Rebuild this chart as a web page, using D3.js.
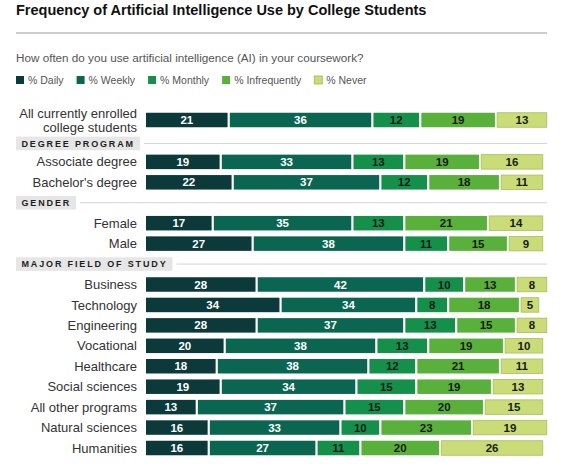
<!DOCTYPE html>
<html>
<head>
<meta charset="utf-8">
<script src="https://cdn.jsdelivr.net/npm/d3@7"></script>
<style>
  body { margin: 0; background: #fff; }
  svg { font-family: "Liberation Sans", Arial, sans-serif; }
</style>
</head>
<body>
<div id="chart"></div>
<script>
// ---- data ----
const title = 'Frequency of Artificial Intelligence Use by College Students';
const question = 'How often do you use artificial intelligence (AI) in your coursework?';
const series = ['% Daily', '% Weekly', '% Monthly', '% Infrequently', '% Never'];
const categories = [
  'All currently enrolled\ncollege students',
  'Associate degree', "Bachelor's degree",
  'Female', 'Male',
  'Business', 'Technology', 'Engineering', 'Vocational', 'Healthcare',
  'Social sciences', 'All other programs', 'Natural sciences', 'Humanities'
];
const sections = [
  '', 'DEGREE PROGRAM', 'DEGREE PROGRAM', 'GENDER', 'GENDER',
  'MAJOR FIELD OF STUDY', 'MAJOR FIELD OF STUDY', 'MAJOR FIELD OF STUDY',
  'MAJOR FIELD OF STUDY', 'MAJOR FIELD OF STUDY', 'MAJOR FIELD OF STUDY',
  'MAJOR FIELD OF STUDY', 'MAJOR FIELD OF STUDY', 'MAJOR FIELD OF STUDY'
];
const daily        = [21, 19, 22, 17, 27, 28, 34, 28, 20, 18, 19, 13, 16, 16];
const weekly       = [36, 33, 37, 35, 38, 42, 34, 37, 38, 38, 34, 37, 33, 27];
const monthly      = [12, 13, 12, 13, 11, 10,  8, 13, 13, 12, 15, 15, 10, 11];
const infrequently = [19, 19, 18, 21, 15, 13, 18, 15, 19, 21, 19, 20, 23, 20];
const never        = [13, 16, 11, 14,  9,  8,  5,  8, 10, 11, 13, 15, 19, 26];

const colors = ['#0c3a3b', '#0b6651', '#15904a', '#59b03b', '#c9dc78'];
const labelColors = ['#fff', '#fff', '#1a1a1a', '#1a1a1a', '#1a1a1a'];

// ---- layout ----
const width = 572, height = 464;
const svg = d3.select('#chart').append('svg')
  .attr('width', width)
  .attr('height', height);

const values = [daily, weekly, monthly, infrequently, never];
const rows = categories.map((c, i) => ({
  label: c,
  key: 'row' + i,
  section: sections[i],
  vals: values.map(s => s[i])
}));

// rows plus a header line whenever the section changes
const rowKeys = [];
const headerRows = [];
let lastSection = '';
rows.forEach(r => {
  if (r.section && r.section !== lastSection) {
    rowKeys.push('hdr' + headerRows.length);
    headerRows.push({ key: 'hdr' + headerRows.length, label: r.section });
  }
  lastSection = r.section;
  rowKeys.push(r.key);
});

const yScale = d3.scalePoint().domain(rowKeys).range([121, 448]);
// the two-line top row needs a little more room below it
const nudge = { row0: -1, hdr0: 2 };
const y = k => yScale(k) + (nudge[k] || 0);
const x = d3.scaleLinear().domain([0, 100]).range([146, 545]);
const barH = 14.5;
const gap = 2.2;

// Title + rule
svg.append('text')
  .attr('x', 16).attr('y', 15)
  .attr('font-size', 14.5)
  .attr('font-weight', 'bold')
  .attr('fill', '#111')
  .text(title);

svg.append('line')
  .attr('x1', 16).attr('x2', 547)
  .attr('y1', 33).attr('y2', 33)
  .attr('stroke', '#bdbdbd')
  .attr('stroke-width', 1.5);

svg.append('text')
  .attr('x', 16).attr('y', 62)
  .attr('font-size', 11.7)
  .attr('fill', '#555')
  .text(question);

// Legend
const legend = svg.append('g').attr('transform', 'translate(16,80)');
let lx = 0;
series.forEach((s, i) => {
  const g = legend.append('g').attr('transform', `translate(${lx},0)`);
  g.append('rect')
    .attr('x', 0).attr('y', -4)
    .attr('width', 8).attr('height', 8)
    .attr('fill', colors[i])
    .attr('stroke', i === 4 ? '#a3b655' : 'none')
    .attr('stroke-width', 0.8);
  const t = g.append('text')
    .attr('x', 12).attr('y', 4)
    .attr('font-size', 10.5)
    .attr('fill', '#555')
    .text(s);
  lx += 12 + t.node().getComputedTextLength() + 13;
});

// Section headers
headerRows.forEach(h => {
  const cy = y(h.key);
  const g = svg.append('g');
  const box = g.append('rect')
    .attr('x', 16).attr('y', cy - 6.8)
    .attr('height', 13.6)
    .attr('fill', '#e6e6e6');
  const t = g.append('text')
    .attr('x', 21.5).attr('y', cy + 3.3)
    .attr('font-size', 9)
    .attr('font-weight', 'bold')
    .attr('letter-spacing', 1.85)
    .attr('fill', '#1e1e1e')
    .text(h.label);
  const w = t.node().getComputedTextLength() + 5.5 + 5;
  box.attr('width', w);
  g.append('line')
    .attr('x1', 16 + w + 4).attr('x2', 547)
    .attr('y1', cy).attr('y2', cy)
    .attr('stroke', '#d4d4d4')
    .attr('stroke-width', 1);
});

// Row labels
rows.forEach(r => {
  const lines = r.label.split('\n');
  const t = svg.append('text')
    .attr('text-anchor', 'end')
    .attr('font-size', 13)
    .attr('fill', '#333');
  lines.forEach((ln, j) => {
    t.append('tspan')
      .attr('x', 137)
      .attr('y', y(r.key) + 4.6 + (j - (lines.length - 1) / 2) * 14)
      .text(ln);
  });
});

// Stacked bars
const stacked = rows.map(r => {
  let cum = 0;
  return r.vals.map((v, i) => {
    const seg = { key: r.key, i, v, x0: cum, x1: cum + v };
    cum += v;
    return seg;
  });
});

const segs = svg.append('g').selectAll('g.seg')
  .data(stacked.flat())
  .join('g')
  .attr('class', 'seg');

segs.append('rect')
  .attr('x', d => x(d.x0))
  .attr('y', d => y(d.key) - barH / 2)
  .attr('width', d => x(d.x1) - x(d.x0) - gap)
  .attr('height', barH)
  .attr('fill', d => colors[d.i])
  .attr('stroke', d => d.i === 4 ? '#aabd5c' : 'none')
  .attr('stroke-width', 0.8);

segs.append('text')
  .attr('x', d => (x(d.x0) + x(d.x1) - gap) / 2)
  .attr('y', d => y(d.key) + 4)
  .attr('text-anchor', 'middle')
  .attr('font-size', 11.5)
  .attr('font-weight', 'bold')
  .attr('fill', d => labelColors[d.i])
  .text(d => d.v);
</script>
</body>
</html>
